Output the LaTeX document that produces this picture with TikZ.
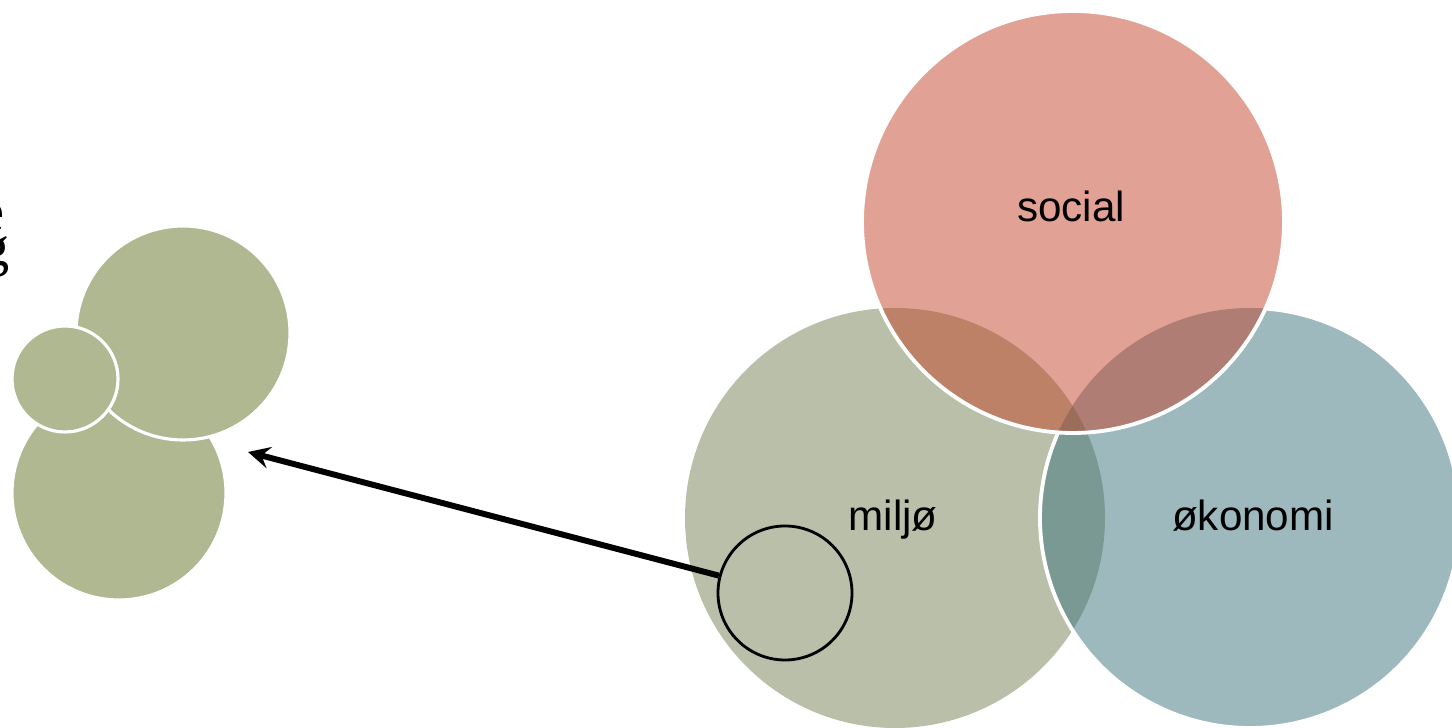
\documentclass[tikz,border=0pt]{standalone}
\usepackage{fontspec}
\setmainfont{Liberation Serif}
\setsansfont{Liberation Sans}
\usepackage{xcolor}
\usetikzlibrary{positioning,calc}

\definecolor{bubblegreen}{RGB}{176,184,145}
\definecolor{miljocol}{RGB}{115,127,81}
\definecolor{oekocol}{RGB}{59,115,125}
\definecolor{socialcol}{RGB}{195,67,41}

\begin{document}
\begin{tikzpicture}[>=stealth]

    % Styles
    \tikzset{
        bubble/.style={fill=bubblegreen, draw=white, line width=0.9pt},
        venn/.style={fill opacity=0.5},
        setname/.style={font=\sffamily\fontsize{12}{14}\selectfont, anchor=base, inner sep=0pt},
        lens/.style={circle, draw=black, line width=0.8pt, minimum size=1.34cm, inner sep=0pt},
        pointer/.style={->, line width=1.7pt}
    }

    \useasboundingbox (0,0) rectangle (14.52,7.28);

    % Coordinates
    \coordinate (S) at (10.73,5.06);   % social
    \coordinate (M) at (8.95,2.10);    % miljø
    \coordinate (E) at (12.50,2.10);   % økonomi

    % Text cut off at the left edge
    \node[anchor=base east, inner sep=0pt, font=\fontsize{16}{19}\selectfont] (frag1) at (0.05,4.97) {e};
    \node[anchor=base east, inner sep=0pt, font=\fontsize{16}{19}\selectfont] (frag2) at (0.10,4.62) {g};

    % Small cluster on the left
    \filldraw[bubble] (1.19,2.35) circle (1.07);
    \filldraw[bubble] (1.83,3.95) circle (1.07);
    \filldraw[bubble] (0.65,3.49) circle (0.53);

    % Venn circles
    \fill[venn, miljocol] (M) circle (2.10);
    \fill[venn, oekocol] (E) circle (2.10);
    \draw[white, line width=1.1pt] (E) ++(155.7:2.10) arc[start angle=155.7, end angle=446.1, radius=2.10];
    \filldraw[venn, fill=socialcol, draw=white, line width=1.1pt] (S) circle (2.11);

    % Names
    \node[setname] (social) at (10.71,5.06) {social};
    \node[setname] (miljo) at (8.93,1.97) {miljø};
    \node[setname] (oekonomi) at (12.53,1.97) {økonomi};

    % Lens and pointer
    \node[lens] (lens) at (7.85,1.35) {};
    \coordinate (tip) at (2.48,2.76);
    \draw[pointer] (lens) -- (tip);

\end{tikzpicture}
\end{document}
